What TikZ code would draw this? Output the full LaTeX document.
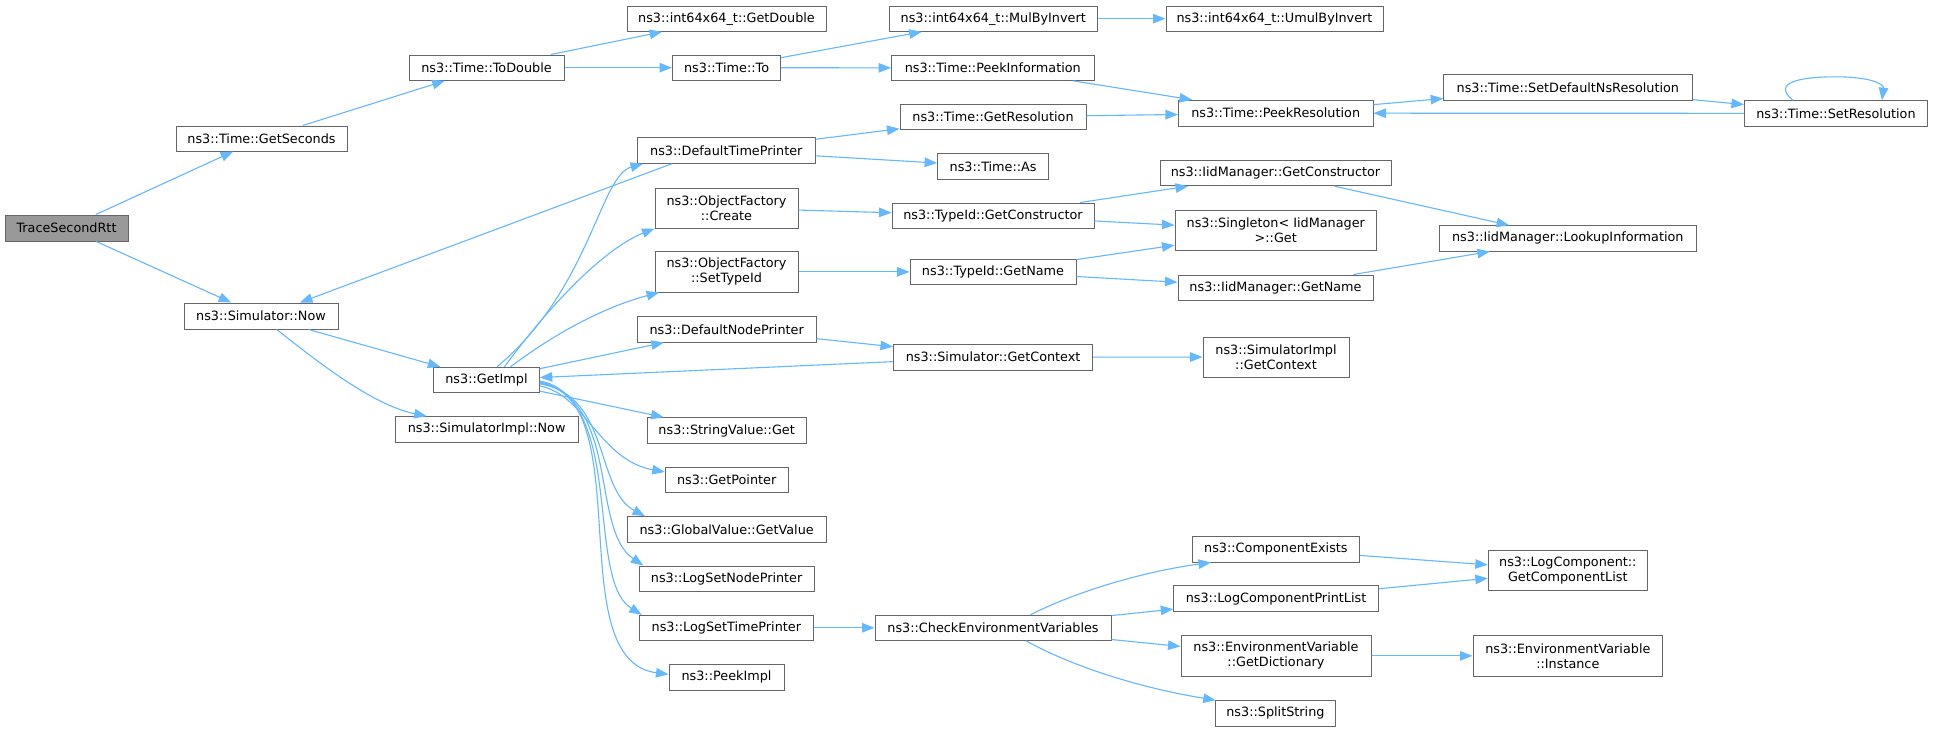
\documentclass[tikz,border=0pt]{standalone}
\usepackage{fontspec}
\setmainfont{DejaVu Sans}
\usetikzlibrary{arrows.meta}
\definecolor{edgec}{HTML}{63B8FF}
\definecolor{bordc}{HTML}{666666}
\definecolor{rootc}{HTML}{999999}
\newcommand{\mkbox}[7][]{\node[fn,#1,minimum width={#5pt-#3pt},minimum height={#6pt-#4pt}] (#2) at ({(#3+#5)/2},{(#4+#6)/2}) {#7};}
\tikzset{
  fn/.style={draw=bordc, line width=1pt, fill=white, inner sep=0pt, align=center,
             font=\fontsize{12.8}{15}\selectfont},
  rootbox/.style={fill=rootc},
  ed/.style={draw=edgec, line width=1.1pt, -{Triangle[length=12.5pt,width=9.5pt]}}
}
\begin{document}
\begin{tikzpicture}[x=1pt,y=-1pt]
\fill[white] (0,0) rectangle (1933,731);
\useasboundingbox (0,0) rectangle (1933,731);

\mkbox[rootbox]{root}{5}{215}{128}{241}{TraceSecondRtt}
\mkbox{gs}{176}{126}{347}{151}{ns3::Time::GetSeconds}
\mkbox{now}{184}{303}{338}{329}{ns3::Simulator::Now}
\mkbox{td}{409}{55}{564}{80.3}{ns3::Time::ToDouble}
\mkbox{gd}{627}{6}{826}{31.3}{ns3::int64x64\_t::GetDouble}
\mkbox{to}{672.5}{55}{780.7}{80.3}{ns3::Time::To}
\mkbox{dtp}{637.3}{137.7}{815.3}{163.3}{ns3::DefaultTimePrinter}
\mkbox{mbi}{889.5}{6}{1097}{31.3}{ns3::int64x64\_t::MulByInvert}
\mkbox{umbi}{1166}{6}{1383}{31.3}{ns3::int64x64\_t::UmulByInvert}
\mkbox{pi}{891.5}{55.7}{1094}{80.3}{ns3::Time::PeekInformation}
\mkbox{gr}{900}{104.3}{1086}{129.7}{ns3::Time::GetResolution}
\mkbox{as}{937.6}{153.7}{1048.7}{179}{ns3::Time::As}
\mkbox{pr}{1178.4}{100.3}{1373}{126}{ns3::Time::PeekResolution}
\mkbox{sdn}{1443.7}{74.7}{1692}{100.7}{ns3::Time::SetDefaultNsResolution}
\mkbox{sr}{1744.5}{100.7}{1927.4}{126}{ns3::Time::SetResolution}
\mkbox{igc}{1160}{160.3}{1391}{185.7}{ns3::IidManager::GetConstructor}
\mkbox{sg}{1175}{210.3}{1376.5}{250.5}{ns3::Singleton< IidManager\\>::Get}
\mkbox{li}{1439.6}{225.7}{1696}{251}{ns3::IidManager::LookupInformation}
\mkbox{ign}{1178}{275}{1373}{300.3}{ns3::IidManager::GetName}
\mkbox{sigc}{1203}{337}{1349}{377}{ns3::SimulatorImpl\\::GetContext}
\mkbox{ofc}{655}{188}{798}{228}{ns3::ObjectFactory\\::Create}
\mkbox{tgc}{892}{203}{1094}{228.3}{ns3::TypeId::GetConstructor}
\mkbox{ofs}{655}{251.7}{798}{292}{ns3::ObjectFactory\\::SetTypeId}
\mkbox{tgn}{910}{259}{1076}{284.7}{ns3::TypeId::GetName}
\mkbox{dnp}{637.3}{316.5}{816}{342}{ns3::DefaultNodePrinter}
\mkbox{gc}{893.5}{344.3}{1092.7}{370}{ns3::Simulator::GetContext}
\mkbox{gi}{433.7}{367.3}{539.3}{392.5}{ns3::GetImpl}
\mkbox{sin}{395.3}{416.7}{578}{442}{ns3::SimulatorImpl::Now}
\mkbox{sv}{647.3}{417.7}{806}{443.3}{ns3::StringValue::Get}
\mkbox{gp}{665.3}{467.3}{788}{492.7}{ns3::GetPointer}
\mkbox{gv}{627.3}{516.7}{826}{542}{ns3::GlobalValue::GetValue}
\mkbox{lsnp}{639.3}{566}{814}{591.3}{ns3::LogSetNodePrinter}
\mkbox{lstp}{639.7}{615.3}{813}{640.3}{ns3::LogSetTimePrinter}
\mkbox{pimpl}{669}{664.7}{784}{690}{ns3::PeekImpl}
\mkbox{cev}{875}{615.3}{1111}{640.3}{ns3::CheckEnvironmentVariables}
\mkbox{ce}{1192.5}{536.5}{1359.3}{562}{ns3::ComponentExists}
\mkbox{lcpl}{1173.75}{585.8}{1378.3}{611.3}{ns3::LogComponentPrintList}
\mkbox{gdict}{1181}{635.7}{1371}{676}{ns3::EnvironmentVariable\\::GetDictionary}
\mkbox{ss}{1215}{700.7}{1335.8}{726}{ns3::SplitString}
\mkbox{gcl}{1488.3}{550.7}{1647.3}{590.7}{ns3::LogComponent::\\GetComponentList}
\mkbox{inst}{1473}{635.7}{1662.7}{676}{ns3::EnvironmentVariable\\::Instance}

\draw[ed] (root) -- (gs);
\draw[ed] (root) -- (now);
\draw[ed] (gs) -- (td);
\draw[ed] (td) -- (gd);
\draw[ed] (td) -- (to);
\draw[ed] (to) -- (mbi);
\draw[ed] (to) -- (pi);
\draw[ed] (mbi) -- (umbi);
\draw[ed] (pi) -- (pr);
\draw[ed] (pr) -- (sdn);
\draw[ed] (sdn) -- (sr);
\draw[ed] (sr) -- (pr);
\draw[ed] ([xshift=-43pt]sr.north) .. controls +(-22,-18) and +(-35,0) .. ([yshift=23.4pt]sr.north) .. controls +(35,0) and +(2,-16) .. ([xshift=46pt]sr.north);
\draw[ed] (now) -- (gi);
\draw[ed] ([xshift=15.7pt]now.south) .. controls +(33.3,26) and +(-56.7,-11.7) .. ([xshift=-60pt]sin.north);
\draw[ed] ([xshift=-54.6pt]dtp.south) -- ([xshift=39pt]now.north);
\draw[ed] (dtp) -- (gr);
\draw[ed] (dtp) -- (as);
\draw[ed] (gr) -- (pr);
\draw[ed] ([xshift=10.5pt]gi.north) .. controls +(93,-77.3) and +(-43,11.7) .. ([xshift=-83.3pt]dtp.south);
\draw[ed] ([xshift=18pt]gi.north) .. controls +(45.5,-62.3) and +(-50,20) .. (ofc.south west);
\draw[ed] ([xshift=24pt]gi.north) .. controls +(49.5,-37.3) and +(-49.6,13) .. ([xshift=4.6pt]ofs.south west);
\draw[ed] (gi) -- (dnp);
\draw[ed] (gc) -- (gi);
\draw[ed] (gi) -- (sv);
\draw[ed] ([yshift=-6pt]gi.east) .. controls +(45.7,9) and +(-65.3,-12) .. ([yshift=8pt]gp.west);
\draw[ed] ([yshift=-4pt]gi.east) .. controls +(70.7,11) and +(-50,-26.7) .. ([xshift=-81.65pt]gv.north);
\draw[ed] ([yshift=-3pt]gi.east) .. controls +(80.7,17) and +(-53.3,-36) .. ([xshift=-83.35pt]lsnp.north);
\draw[ed] ([yshift=-2pt]gi.east) .. controls +(85.7,18) and +(-56.7,-35.3) .. ([xshift=-84.65pt]lstp.north);
\draw[ed] ([yshift=-1pt]gi.east) .. controls +(100.7,19) and +(-109,-14.35) .. ([yshift=3pt]pimpl.west);
\draw[ed] (ofc) -- (tgc);
\draw[ed] (ofs) -- (tgn);
\draw[ed] (dnp) -- (gc);
\draw[ed] (tgc) -- (igc);
\draw[ed] (tgc) -- (sg);
\draw[ed] (tgn) -- (sg);
\draw[ed] (tgn) -- (ign);
\draw[ed] (igc) -- (li);
\draw[ed] (ign) -- (li);
\draw[ed] (gc) -- (sigc);
\draw[ed] (lstp) -- (cev);
\draw[ed] ([xshift=37.4pt]cev.north) .. controls +(49.6,-25.3) and +(-61,8) .. ([xshift=-64.9pt]ce.south);
\draw[ed] (cev) -- (lcpl);
\draw[ed] (cev) -- (gdict);
\draw[ed] ([xshift=33pt]cev.south) .. controls +(54,29.7) and +(-65.7,-10.7) .. ([xshift=-59.7pt]ss.north);
\draw[ed] (ce) -- (gcl);
\draw[ed] (lcpl) -- (gcl);
\draw[ed] (gdict) -- (inst);
\end{tikzpicture}
\end{document}
